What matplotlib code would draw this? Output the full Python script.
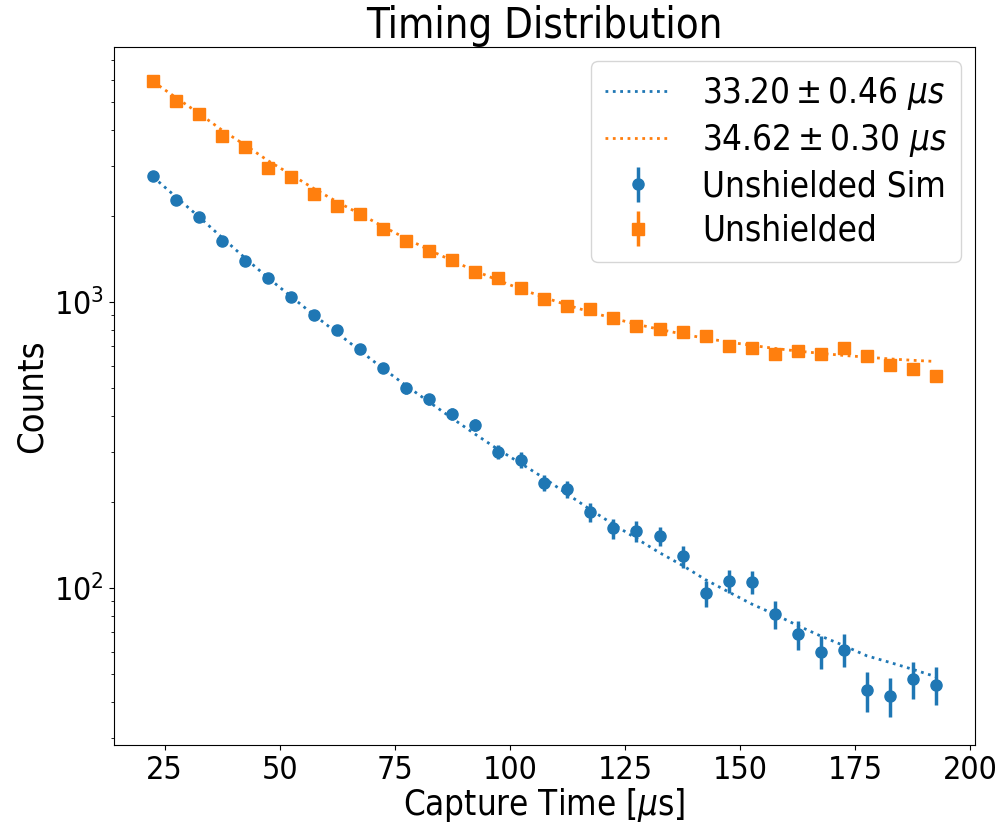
import numpy as np
import matplotlib
matplotlib.use('Agg')
import matplotlib.pyplot as plt

plt.rcParams.update({
    'font.family': 'DejaVu Sans',
    'font.stretch': 'condensed',
    'xtick.labelsize': 23,
    'ytick.labelsize': 23,
    'axes.labelsize': 26,
    'legend.fontsize': 25,
})

# bin centres [us]
t = [22.5, 27.5, 32.5, 37.5, 42.5, 47.5, 52.5, 57.5, 62.5, 67.5,
     72.5, 77.5, 82.5, 87.5, 92.5, 97.5, 102.5, 107.5, 112.5, 117.5,
     122.5, 127.5, 132.5, 137.5, 142.5, 147.5, 152.5, 157.5, 162.5, 167.5,
     172.5, 177.5, 182.5, 187.5, 192.5]

# Unshielded Sim counts + errors
sim = [2765, 2279, 1992, 1642, 1387, 1219, 1046, 898, 800, 685,
       588, 500, 458, 407, 372, 300, 281, 234, 222, 184,
       162, 158, 152, 129, 96, 106, 105, 81, 69, 60,
       61, 44, 42, 48, 46]
sim_err = [52, 48, 45, 41, 37, 35, 32, 30, 28, 26,
           24, 22, 21, 20, 19, 17, 17, 15, 15, 14,
           13, 13, 12, 11, 10, 10, 10, 9, 8, 8,
           8, 7, 6.5, 7, 7]
sim_fit = [2740, 2330, 1985, 1680, 1425, 1215, 1045, 900, 780, 675,
           585, 510, 447, 392, 345, 305, 272, 242, 213, 188,
           167, 149, 133, 120, 107, 97, 88, 81, 74, 68,
           63, 58, 55, 52, 49]

# Unshielded (data) counts + errors
dat = [5907, 5057, 4541, 3811, 3499, 2941, 2748, 2387, 2172, 2031,
       1800, 1629, 1511, 1405, 1273, 1213, 1119, 1024, 973, 945,
       883, 826, 806, 783, 762, 703, 690, 658, 672, 658,
       690, 646, 604, 583, 552]
dat_err = [77, 71, 67, 62, 59, 54, 52, 49, 47, 45,
           42, 40, 39, 37, 36, 35, 33, 32, 31, 31,
           30, 29, 28, 28, 28, 27, 26, 26, 26, 26,
           26, 25, 25, 24, 23]
dat_fit = [5900, 5185, 4566, 3990, 3540, 3120, 2790, 2490, 2240, 2031,
           1836, 1667, 1521, 1395, 1285, 1191, 1109, 1038, 976, 923,
           877, 837, 803, 773, 747, 725, 706, 689, 674, 662,
           651, 642, 633, 626, 620]

fit_labels = [r"$33.20 \pm 0.46\ \mu s$", r"$34.62 \pm 0.30\ \mu s$"]

fig, ax = plt.subplots(figsize=(10.04, 8.24), dpi=100)
fig.subplots_adjust(left=0.1135, right=0.971, top=0.943, bottom=0.096)

ax.plot(t, sim_fit, ':', color='C0', lw=2, label=fit_labels[0])
ax.plot(t, dat_fit, ':', color='C1', lw=2, label=fit_labels[1])
ax.errorbar(t, sim, yerr=sim_err, fmt='o', color='C0', ms=8, elinewidth=2.5,
            label="Unshielded Sim")
ax.errorbar(t, dat, yerr=dat_err, fmt='s', color='C1', ms=8, elinewidth=2.5,
            label="Unshielded")

ax.set_yscale('log')
ax.set_ylim(28.3, 7800)
ax.set_title("Timing Distribution", fontsize=30, pad=4)
ax.set_xlabel(r"Capture Time [$\mu$s]", fontsize=25, labelpad=0)
ax.set_ylabel("Counts")
ax.legend(loc='upper right', labelspacing=0.3, handletextpad=0.9,
          handlelength=1.9, borderaxespad=0.4)

plt.savefig("out.png", dpi=100)
